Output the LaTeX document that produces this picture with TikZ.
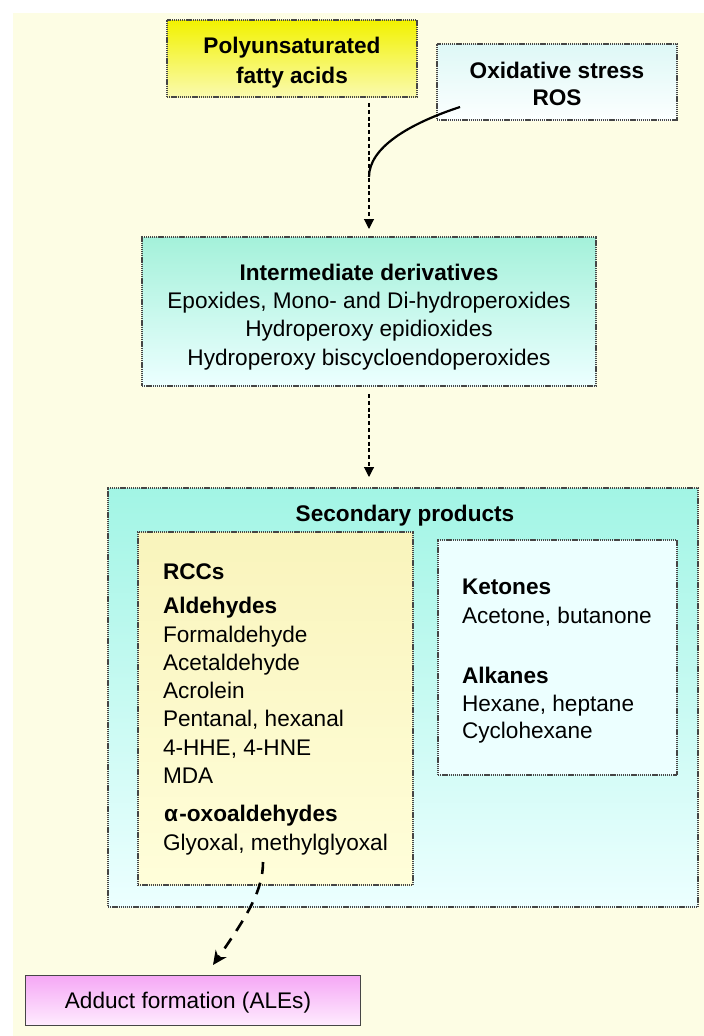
\documentclass[tikz,border=0pt]{standalone}
\usepackage{fontspec}
\setmainfont{Liberation Sans}
\usetikzlibrary{arrows.meta}
\definecolor{bgc}{RGB}{253,253,228}
\definecolor{bord}{RGB}{70,70,70}
\definecolor{pufaT}{RGB}{242,242,0}
\definecolor{pufaB}{RGB}{250,250,175}
\definecolor{oxT}{RGB}{222,248,246}
\definecolor{oxB}{RGB}{252,255,255}
\definecolor{intT}{RGB}{164,241,218}
\definecolor{intB}{RGB}{236,255,255}
\definecolor{secT}{RGB}{162,245,229}
\definecolor{secB}{RGB}{236,255,255}
\definecolor{rccT}{RGB}{249,244,188}
\definecolor{rccB}{RGB}{255,254,218}
\definecolor{ketC}{RGB}{236,255,255}
\definecolor{addT}{RGB}{245,168,245}
\definecolor{addB}{RGB}{255,236,255}
\tikzset{
 dotbox/.style={draw=bord, line width=1.3pt, dash pattern=on 1.3pt off 0.8pt, inner sep=0pt, outer sep=0pt, anchor=north west},
 t/.style={font=\fontsize{22.6}{27}\selectfont, inner sep=0pt, outer sep=0pt},
 tb/.style={font=\fontsize{22.6}{27}\selectfont\bfseries, inner sep=0pt, outer sep=0pt},
 darrow/.style={line width=1.1pt, dash pattern=on 4pt off 2.8pt, -{Triangle[length=10pt,width=10pt]}},
}
\begin{document}
\begin{tikzpicture}[x=1pt,y=-1pt]
\useasboundingbox (0,0) rectangle (704,1036);
\fill[bgc] (13,13) rectangle (704,1036);

% top boxes
\node[dotbox, minimum width=250pt, minimum height=77pt, top color=pufaT, bottom color=pufaB] (pufa) at (167,20) {};
\node[tb, anchor=base] (pufa1) at (292,53) {Polyunsaturated};
\node[tb, anchor=base] (pufa2) at (292,83) {fatty acids};

\node[dotbox, minimum width=240pt, minimum height=76pt, top color=oxT, bottom color=oxB] (ox) at (437,44) {};
\node[tb, anchor=base] (ox1) at (557,78) {Oxidative stress};
\node[tb, anchor=base] (ox2) at (557,105) {ROS};

% intermediate
\node[dotbox, minimum width=454pt, minimum height=149pt, top color=intT, bottom color=intB] (inter) at (142,237) {};
\node[tb, anchor=base] (int1) at (369,280) {Intermediate derivatives};
\node[t, anchor=base] (int2) at (369,308) {Epoxides, Mono- and Di-hydroperoxides};
\node[t, anchor=base] (int3) at (369,336) {Hydroperoxy epidioxides};
\node[t, anchor=base] (int4) at (369,365) {Hydroperoxy biscycloendoperoxides};

% arrows top
\coordinate (a1s) at (369,103);
\coordinate (a1e) at (369,229);
\draw[darrow] (a1s) -- (a1e);
\coordinate (c1) at (460,107);
\coordinate (c2) at (369,177);
\draw[line width=2.2pt] (c1) .. controls (408,124) and (369,148) .. (c2);
\coordinate (a2s) at (369,394);
\coordinate (a2e) at (369,477);
\draw[darrow] (a2s) -- (a2e);

% secondary
\node[dotbox, minimum width=590pt, minimum height=419pt, top color=secT, bottom color=secB] (sec) at (108,488) {};
\node[tb, anchor=base] (sec1) at (405,521) {Secondary products};

\node[dotbox, minimum width=275pt, minimum height=353pt, top color=rccT, bottom color=rccB] (rcc) at (138,532) {};
\node[tb, anchor=base west] (r1) at (163,579) {RCCs};
\node[tb, anchor=base west] (r2) at (163,613) {Aldehydes};
\node[t, anchor=base west] (r3) at (163,642) {Formaldehyde};
\node[t, anchor=base west] (r4) at (163,670) {Acetaldehyde};
\node[t, anchor=base west] (r5) at (163,698) {Acrolein};
\node[t, anchor=base west] (r6) at (163,726) {Pentanal, hexanal};
\node[t, anchor=base west] (r7) at (163,755) {4-HHE, 4-HNE};
\node[t, anchor=base west] (r8) at (163,783) {MDA};
\node[tb, anchor=base west] (r9) at (164,821) {α\kern1.5pt-oxoaldehydes};
\node[t, anchor=base west] (r10) at (163,850) {Glyoxal, methylglyoxal};

\node[dotbox, minimum width=239pt, minimum height=235pt, fill=ketC] (ket) at (438,540) {};
\node[tb, anchor=base west] (k1) at (462,594) {Ketones};
\node[t, anchor=base west] (k2) at (462,623) {Acetone, butanone};
\node[tb, anchor=base west] (k3) at (462,683) {Alkanes};
\node[t, anchor=base west] (k4) at (462,711) {Hexane, heptane};
\node[t, anchor=base west] (k5) at (462,738) {Cyclohexane};

% adduct
\node[draw=bord, line width=1.4pt, inner sep=0pt, anchor=north west, minimum width=335pt, minimum height=50pt, top color=addT, bottom color=addB] (add) at (25,975) {};
\node[t, anchor=base] (add1) at (188,1008) {Adduct formation (ALEs)};

\coordinate (a3s) at (263,862);
\coordinate (a3e) at (213,965);
\draw[line width=2.6pt, dash pattern=on 12pt off 9pt, -{Stealth[length=14pt,width=13pt]}] (a3s) .. controls (263,890) and (248,915) .. (a3e);
\end{tikzpicture}
\end{document}
